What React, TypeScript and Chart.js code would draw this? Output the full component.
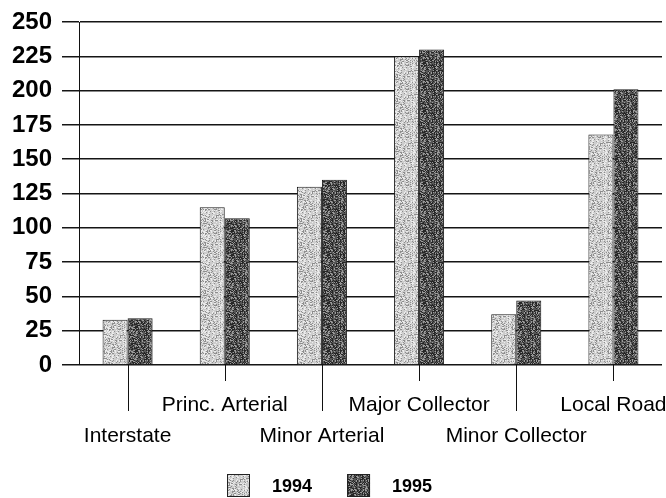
import React, { useEffect, useRef } from "react";
import { Chart, registerables } from "chart.js";

Chart.register(...registerables);

const categories = [
  "Interstate",
  "Princ. Arterial",
  "Minor Arterial",
  "Major Collector",
  "Minor Collector",
  "Local Road",
];
const series1994 = [33, 115, 130, 225, 37, 168];
const series1995 = [34, 107, 135, 230, 47, 201];
const seriesLabels = ["1994", "1995"];
const yMin = 0;
const yMax = 250;
const yStep = 25;

const FONT = "'Liberation Sans', Arial, Helvetica, sans-serif";

function hash(x: number, y: number): number {
  let n = Math.imul(x, 374761393) + Math.imul(y, 668265263);
  n = Math.imul(n ^ (n >>> 13), 1274126177);
  n = n ^ (n >>> 16);
  return (n >>> 0) & 255;
}

function makePattern(
  ctx: CanvasRenderingContext2D,
  levels: [number, string][]
): CanvasPattern | string {
  const size = 24;
  const c = document.createElement("canvas");
  c.width = size;
  c.height = size;
  const g = c.getContext("2d");
  if (!g) return levels[levels.length - 1][1];
  for (let y = 0; y < size; y++) {
    for (let x = 0; x < size; x++) {
      const h = hash(x, y);
      let col = levels[levels.length - 1][1];
      for (const [t, cl] of levels) {
        if (h < t) {
          col = cl;
          break;
        }
      }
      g.fillStyle = col;
      g.fillRect(x, y, 1, 1);
    }
  }
  return ctx.createPattern(c, "repeat") || levels[levels.length - 1][1];
}

export default function App() {
  const ref = useRef<HTMLCanvasElement | null>(null);

  useEffect(() => {
    const canvas = ref.current;
    if (!canvas) return;
    const ctx = canvas.getContext("2d");
    if (!ctx) return;

    const fillLight = makePattern(ctx, [
      [55, "#8e8e8e"],
      [190, "#cdcdcd"],
      [256, "#ececec"],
    ]);
    const fillDark = makePattern(ctx, [
      [95, "#262626"],
      [195, "#575757"],
      [256, "#9c9c9c"],
    ]);
    const fills = [fillLight, fillDark];

    const xTickPlugin = {
      id: "xTickMarks",
      afterDraw(chart: any) {
        const xs = chart.scales.x;
        const c = chart.ctx;
        const bottom = chart.chartArea.bottom;
        c.save();
        c.strokeStyle = "#111";
        c.lineWidth = 1;
        for (let i = 0; i < categories.length; i++) {
          const px = Math.round(xs.getPixelForValue(i)) + 0.5;
          const len = i % 2 === 0 ? 46 : 16;
          c.beginPath();
          c.moveTo(px, bottom);
          c.lineTo(px, bottom + len);
          c.stroke();
        }
        c.restore();
      },
    };

    const legendPlugin = {
      id: "customLegend",
      afterDraw(chart: any) {
        const c = chart.ctx;
        c.save();
        c.font = `bold 18px ${FONT}`;
        const box = 23;
        const gapBoxText = 22;
        const gapItems = 35;
        const widths = seriesLabels.map((l) => c.measureText(l).width);
        let total = 0;
        widths.forEach((w, i) => {
          total += box + gapBoxText + w + (i < widths.length - 1 ? gapItems : 0);
        });
        let x = Math.round(chart.width / 2 - 3 - total / 2);
        const top = 474;
        seriesLabels.forEach((label, i) => {
          c.fillStyle = fills[i];
          c.fillRect(x, top, box, box);
          c.strokeStyle = "#222";
          c.lineWidth = 1;
          c.strokeRect(x + 0.5, top + 0.5, box - 1, box - 1);
          c.fillStyle = "#000";
          c.textBaseline = "middle";
          c.textAlign = "left";
          c.fillText(label, x + box + gapBoxText, top + 13);
          x += box + gapBoxText + widths[i] + gapItems;
        });
        c.restore();
      },
    };

    const chart = new Chart(canvas, {
      type: "bar",
      data: {
        labels: categories,
        datasets: [
          {
            label: seriesLabels[0],
            data: series1994,
            backgroundColor: fillLight as any,
            borderColor: "#1a1a1a",
            borderWidth: 1,
            categoryPercentage: 0.515,
            barPercentage: 1,
          },
          {
            label: seriesLabels[1],
            data: series1995,
            backgroundColor: fillDark as any,
            borderColor: "#1a1a1a",
            borderWidth: 1,
            categoryPercentage: 0.515,
            barPercentage: 1,
          },
        ],
      },
      options: {
        animation: false,
        responsive: false,
        maintainAspectRatio: false,
        layout: { padding: { top: 22, right: 4, left: 0, bottom: 0 } },
        plugins: {
          legend: { display: false },
          tooltip: { enabled: false },
        },
        scales: {
          x: {
            grid: { display: false, drawTicks: false },
            border: { display: false },
            ticks: {
              autoSkip: false,
              maxRotation: 0,
              minRotation: 0,
              padding: -6,
              color: "#000",
              font: { family: FONT, size: 21, lineHeight: 1.476 },
              callback: (_v: any, i: number) =>
                i % 2 === 0 ? ["", "", categories[i]] : ["", categories[i]],
            },
            afterFit: (s: any) => {
              s.height = 133;
              s.paddingLeft = 0;
              s.paddingRight = 0;
            },
          },
          y: {
            min: yMin,
            max: yMax,
            ticks: {
              stepSize: yStep,
              padding: 10,
              color: "#000",
              font: { family: FONT, size: 24, weight: "bold" },
            },
            grid: {
              color: "#151515",
              lineWidth: 1.5,
              tickLength: 17,
              tickColor: "#151515",
            },
            border: { display: true, color: "#111", width: 1 },
            afterFit: (s: any) => {
              s.width = 79;
              s.paddingTop = 0;
              s.paddingBottom = 0;
            },
          },
        },
      },
      plugins: [xTickPlugin, legendPlugin],
    });

    return () => chart.destroy();
  }, []);

  return (
    <div
      style={{
        position: "fixed",
        left: 0,
        top: 0,
        width: 666,
        height: 498,
        background: "#fff",
      }}
    >
      <canvas ref={ref} width={666} height={498} style={{ display: "block" }} />
    </div>
  );
}
